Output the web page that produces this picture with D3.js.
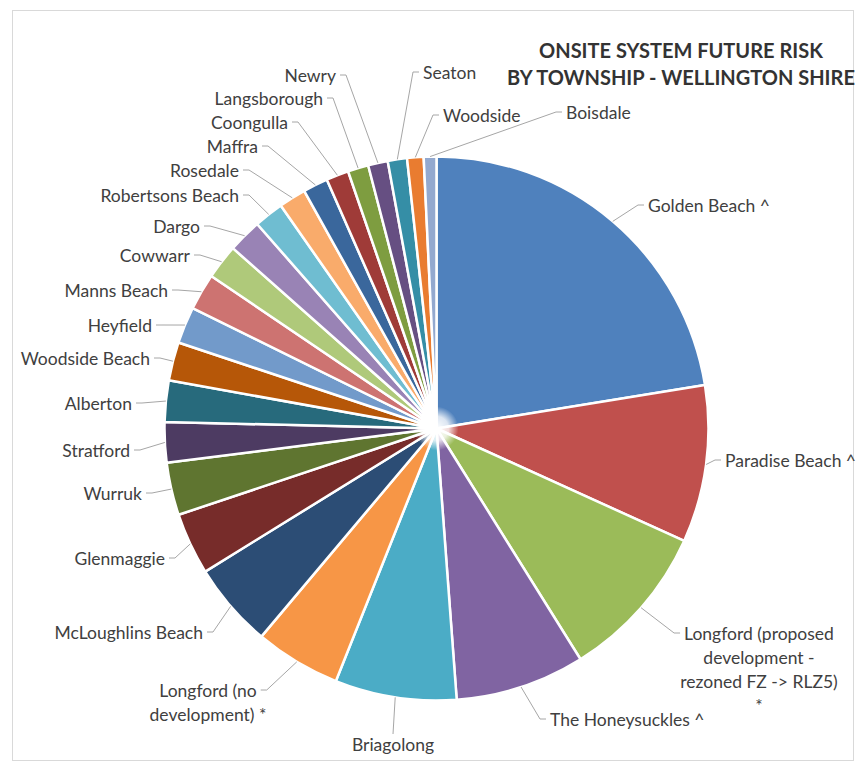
<!DOCTYPE html>
<html>
<head>
<meta charset="utf-8">
<script src="https://cdn.jsdelivr.net/npm/d3@7"></script>
<style>
    body { margin: 0; background: #fff; }
    text { font-family: Lato, "Open Sans", sans-serif; }
</style>
</head>
<body>
<div id="chart"></div>
<script>

// townships, clockwise from 12 o'clock (as in the workbook)
const townships = [
    "Golden Beach ^", "Paradise Beach ^",
    "Longford (proposed development - rezoned FZ -> RLZ5) *",
    "The Honeysuckles ^", "Briagolong", "Longford (no development) *",
    "McLoughlins Beach", "Glenmaggie", "Wurruk", "Stratford", "Alberton",
    "Woodside Beach", "Heyfield", "Manns Beach", "Cowwarr", "Dargo",
    "Robertsons Beach", "Rosedale", "Maffra", "Coongulla", "Langsborough",
    "Newry", "Seaton", "Woodside", "Boisdale"
];

// relative future risk share
const riskShare = [
    80.5, 33.5, 33.5, 27.6, 25.9, 18.3, 18.1, 13.2, 11.2, 8.6, 8.8,
    8.2, 7.8, 7.8, 7.4, 7.2, 6.3, 5.8, 5.3, 4.8, 4.4, 4.2, 4.1, 3.5, 2.7
];

const sliceColors = [
    "#4f81bd", "#c0504d", "#9bbb59", "#8064a2", "#4bacc6", "#f79646",
    "#2c4d75", "#772c2a", "#5f7530", "#4d3b62", "#276a7c", "#b65708",
    "#729aca", "#cd7371", "#afc97a", "#9983b5", "#6fbdd1", "#f9ab6b",
    "#3a679c", "#9f3b38", "#7e9d40", "#664f82", "#358ea6", "#e97c30", "#93a9cf"
];

const titleLines = ["ONSITE SYSTEM FUTURE RISK", "BY TOWNSHIP - WELLINGTON SHIRE"];

// where each data label sits (Excel had them dragged by hand)
const labelLayout = [
    {x: 648, y: 205, anchor: "start"},
    {x: 725, y: 460, anchor: "start"},
    {x: 759, y: 633, anchor: "middle", side: "left",
        lines: ["Longford (proposed", "development -", "rezoned FZ -> RLZ5)", "*"]},
    {x: 550, y: 719, anchor: "start"},
    {x: 393, y: 744, anchor: "middle", side: "top"},
    {x: 208, y: 690, anchor: "middle", side: "right",
        lines: ["Longford (no", "development) *"]},
    {x: 203, y: 632, anchor: "end"},
    {x: 165, y: 558, anchor: "end"},
    {x: 142, y: 493, anchor: "end"},
    {x: 130, y: 450, anchor: "end"},
    {x: 132, y: 403, anchor: "end"},
    {x: 150, y: 358, anchor: "end"},
    {x: 152, y: 325, anchor: "end"},
    {x: 168, y: 290, anchor: "end"},
    {x: 190, y: 255, anchor: "end"},
    {x: 200, y: 226, anchor: "end"},
    {x: 239, y: 195, anchor: "end"},
    {x: 239, y: 170, anchor: "end"},
    {x: 258, y: 146, anchor: "end"},
    {x: 288, y: 122, anchor: "end"},
    {x: 323, y: 98, anchor: "end"},
    {x: 336, y: 75, anchor: "end"},
    {x: 423, y: 72, anchor: "start"},
    {x: 443, y: 115, anchor: "start"},
    {x: 566, y: 112, anchor: "start"}
];

const width = 862, height = 767;
const cx = 436.5, cy = 428.5, radius = 272;
const lineHeight = 24;

const svg = d3.select("#chart").append("svg")
    .attr("width", width)
    .attr("height", height);

// soft white spot where all the slice borders meet
const hub = svg.append("defs").append("radialGradient").attr("id", "hub");
hub.append("stop").attr("offset", "0%").attr("stop-color", "#fff").attr("stop-opacity", 1);
hub.append("stop").attr("offset", "55%").attr("stop-color", "#fff").attr("stop-opacity", 0.8);
hub.append("stop").attr("offset", "100%").attr("stop-color", "#fff").attr("stop-opacity", 0);

// chart area border
svg.append("rect")
    .attr("x", 12.5).attr("y", 10.5)
    .attr("width", 841).attr("height", 750)
    .attr("fill", "#fff")
    .attr("stroke", "#d9d9d9");

const data = townships.map((name, i) => ({name: name, value: riskShare[i], i: i}));

const pie = d3.pie()
    .sort(null)
    .value(d => d.value);

const arc = d3.arc()
    .innerRadius(0)
    .outerRadius(radius);

const edgeArc = d3.arc()
    .innerRadius(radius)
    .outerRadius(radius);

const color = d3.scaleOrdinal()
    .domain(townships)
    .range(sliceColors);

const arcs = pie(data);

const g = svg.append("g")
    .attr("transform", "translate(" + cx + "," + cy + ")");

g.selectAll("path.slice")
    .data(arcs)
    .join("path")
    .attr("class", "slice")
    .attr("d", arc)
    .attr("fill", d => color(d.data.name))
    .attr("stroke", "#fff")
    .attr("stroke-width", 2.5)
    .attr("stroke-linejoin", "round");

g.append("circle")
    .attr("r", 22)
    .attr("fill", "url(#hub)");

// labels + leader lines
const labels = svg.append("g")
    .attr("font-size", 17.5)
    .attr("fill", "#404040");

const leaders = svg.append("g")
    .attr("fill", "none")
    .attr("stroke", "#a6a6a6")
    .attr("stroke-width", 1);

arcs.forEach(function(d, i) {
    let lay = labelLayout[i];
    let lines = lay.lines || [d.data.name];

    let t = labels.append("text")
        .attr("text-anchor", lay.anchor)
        .attr("dominant-baseline", "central");

    lines.forEach(function(line, k) {
        t.append("tspan")
            .attr("x", lay.x)
            .attr("y", lay.y + k * lineHeight)
            .text(line);
    });

    // first line width decides where the leader starts
    let w = t.select("tspan").node().getComputedTextLength();
    let left = lay.anchor === "start" ? lay.x : lay.anchor === "end" ? lay.x - w : lay.x - w / 2;
    let right = left + w;
    let side = lay.side || (lay.anchor === "end" ? "right" : "left");

    let c = edgeArc.centroid(d);
    let tip = [cx + c[0], cy + c[1]];
    let pts;
    if (side === "right") {
        pts = [[right + 4, lay.y], [right + 10, lay.y], tip];
    } else if (side === "left") {
        pts = [[left - 4, lay.y], [left - 10, lay.y], tip];
    } else {
        pts = [[lay.x, lay.y - 10], tip];
    }
    leaders.append("path").attr("d", d3.line()(pts));
});

// title
svg.append("text")
    .attr("text-anchor", "middle")
    .attr("font-size", 20)
    .attr("font-weight", "bold")
    .attr("fill", "#333")
    .selectAll("tspan")
    .data(titleLines)
    .join("tspan")
    .attr("x", 681)
    .attr("y", (d, i) => 58 + i * 27)
    .text(d => d);

</script>
</body>
</html>
